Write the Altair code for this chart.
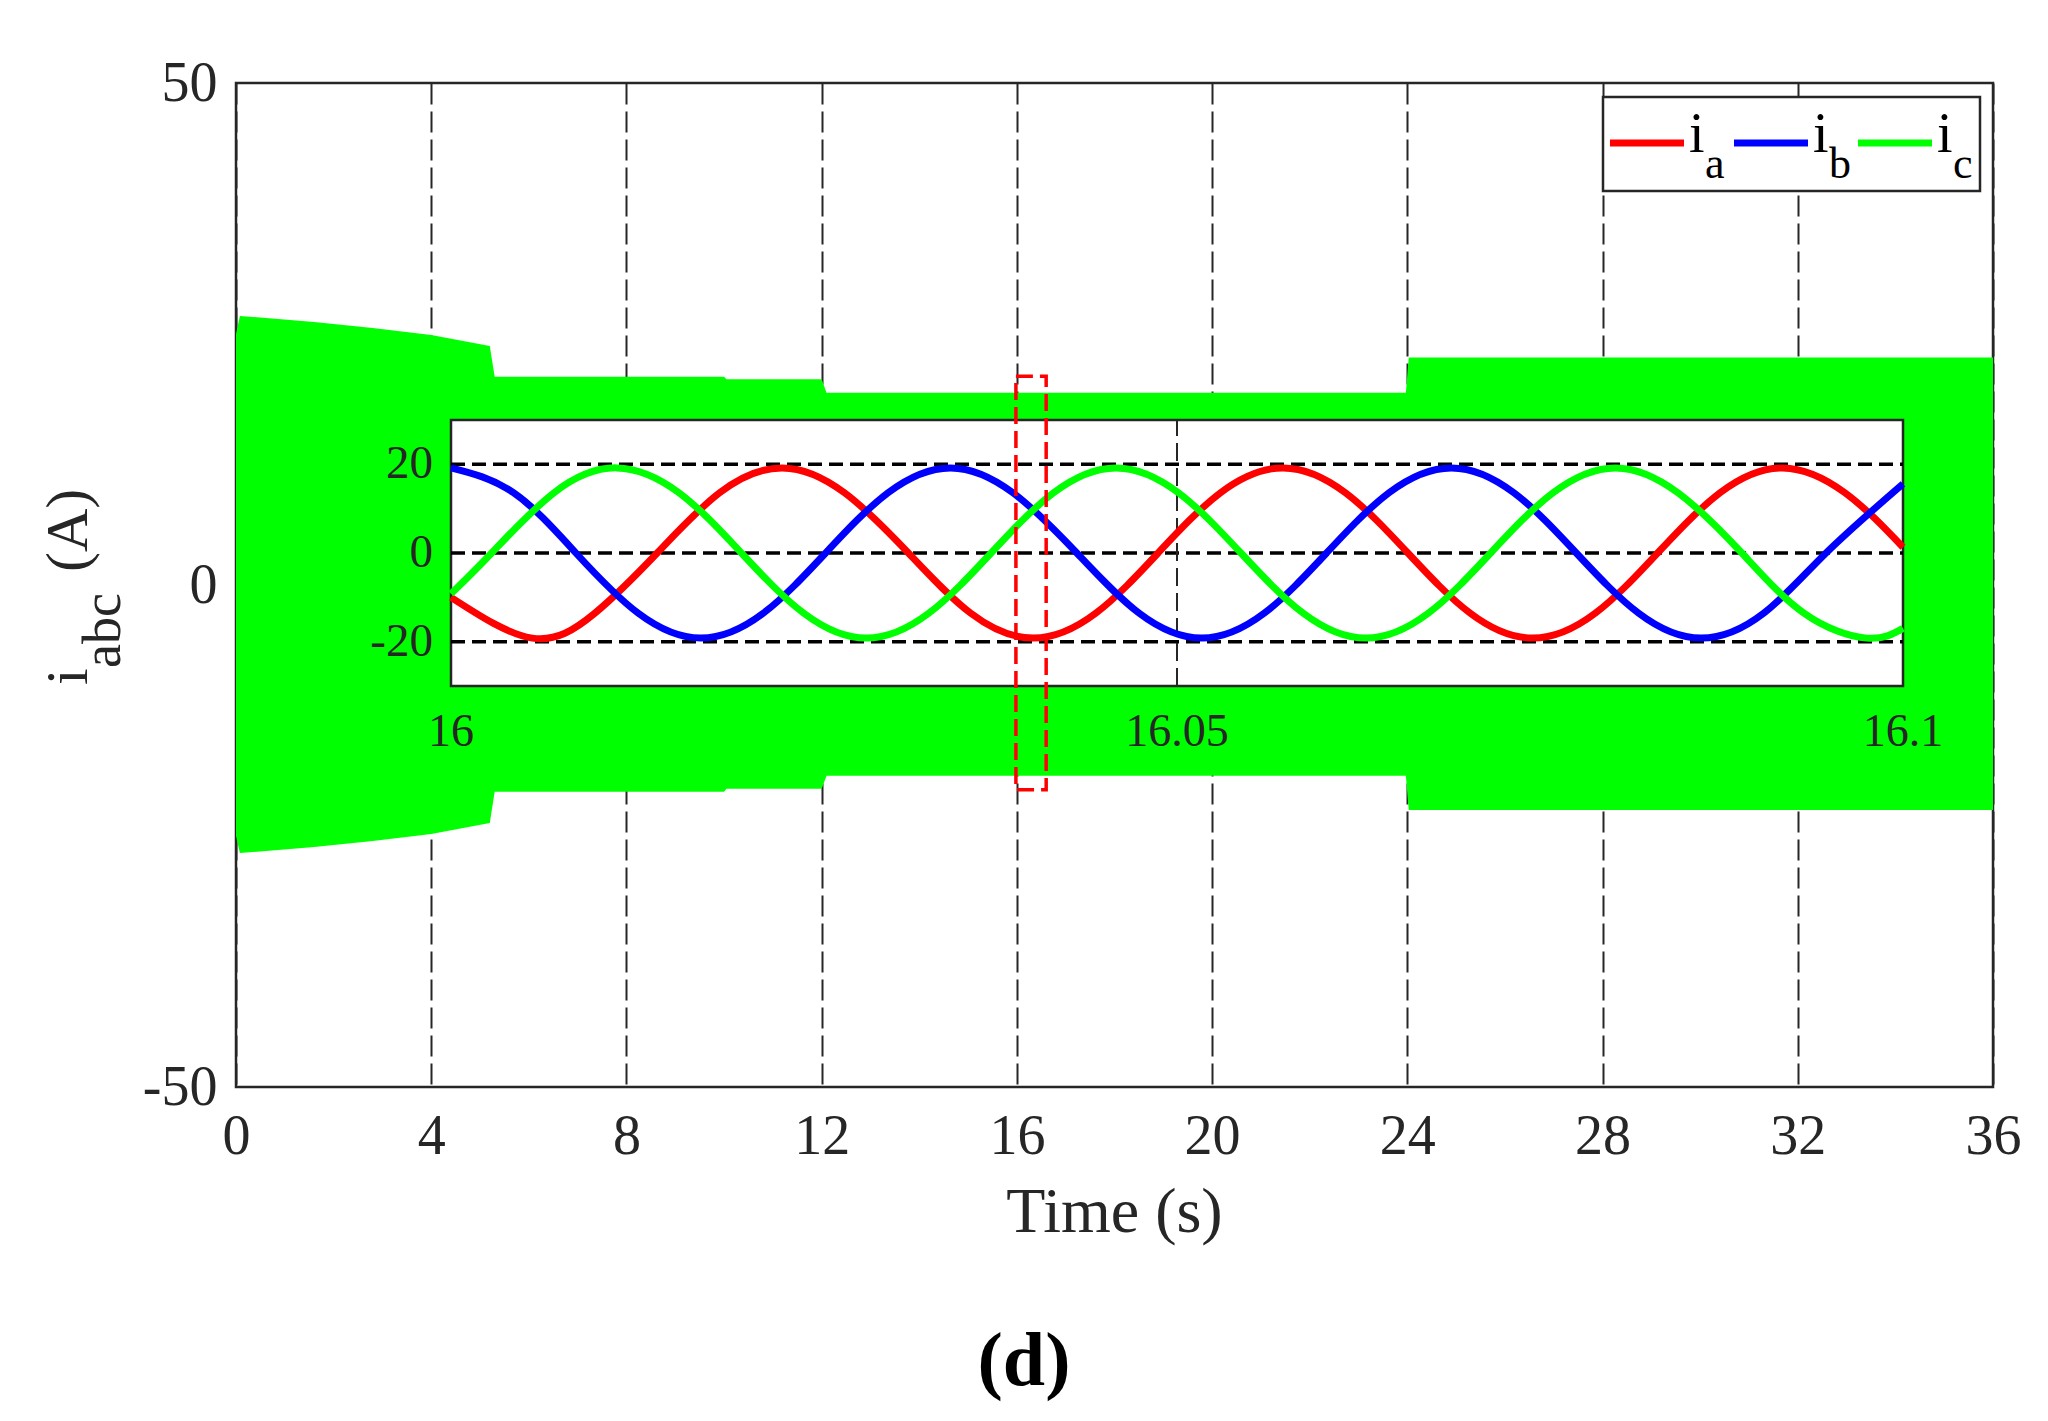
import altair as alt
import pandas as pd

FONT = "Liberation Serif"
INK = "#262626"
C_A, C_B, C_C = "#FF0000", "#0000FF", "#00FF00"

# ---------------- main plot: envelope of the three phase currents ----------------
env_t = [0.0, 0.08, 1.6, 2.8, 4.0, 5.2, 5.3, 10.0, 10.05, 12.0, 12.1, 23.97, 24.03, 36.0]
env_hi = [25.0, 26.8, 26.2, 25.6, 24.9, 23.8, 20.75, 20.75, 20.5, 20.5, 19.15, 19.15, 22.65, 22.65]
env_lo = [-25.0, -26.7, -26.1, -25.5, -24.8, -23.7, -20.6, -20.6, -20.3, -20.3, -19.0, -19.0, -22.4, -22.4]

x_ticks = [0, 4, 8, 12, 16, 20, 24, 28, 32, 36]
y_ticks = [-50, 0, 50]
x_dom = [0, 36]
y_dom = [-50, 50]

# zoom rectangle (red dashed) in main coordinates
zoom_box = {"t0": [15.98], "t1": [16.6], "v0": [-20.4], "v1": [20.8]}

# ---------------- inset: 16 s .. 16.1 s ----------------
ins_x_dom = [16.0, 16.1]
ins_y_dom = [-30, 30]
ins_x_ticks = [16.0, 16.05, 16.1]
ins_x_labels = ["16", "16.05", "16.1"]
ins_y_ticks = [20, 0, -20]
ins_y_labels = ["20", "0", "-20"]

red_t = [16.0, 16.0056, 16.0099, 16.0142, 16.0185, 16.0228, 16.0271, 16.0315, 16.0358,
         16.0401, 16.0444, 16.0487, 16.0530, 16.0573, 16.0616, 16.0659, 16.0702, 16.0745, 16.0788,
         16.0831, 16.0874, 16.0917, 16.0960, 16.1]
red_v = [-10.0, -19.2, -13.6, 0.0, 13.6, 19.2, 13.6, 0.0, -13.6,
         -19.2, -13.6, 0.0, 13.6, 19.2, 13.6, 0.0, -13.6, -19.2, -13.6,
         0.0, 13.6, 19.2, 13.6, 1.3]

blue_t = [16.0, 16.0043, 16.0086, 16.0129, 16.0172, 16.0215, 16.0258, 16.0301, 16.0344, 16.0387,
          16.0431, 16.0474, 16.0517, 16.0560, 16.0603, 16.0646, 16.0689, 16.0732, 16.0775, 16.0818,
          16.0861, 16.0904, 16.0947, 16.1]
blue_v = [19.2, 13.6, 0.0, -13.6, -19.2, -13.6, 0.0, 13.6, 19.2, 13.6,
          0.0, -13.6, -19.2, -13.6, 0.0, 13.6, 19.2, 13.6, 0.0, -13.6,
          -19.2, -13.6, 0.0, 15.6]

green_t = [16.0, 16.0028, 16.0071, 16.0114, 16.0157, 16.0200, 16.0243, 16.0286, 16.0329, 16.0372,
           16.0415, 16.0458, 16.0501, 16.0544, 16.0587, 16.0630, 16.0673, 16.0716, 16.0759, 16.0802,
           16.0845, 16.0889, 16.0932, 16.0975, 16.1]
green_v = [-9.2, 0.0, 13.6, 19.2, 13.6, 0.0, -13.6, -19.2, -13.6, 0.0,
           13.6, 19.2, 13.6, 0.0, -13.6, -19.2, -13.6, 0.0, 13.6, 19.2,
           13.6, 0.0, -13.6, -19.2, -17.0]

series = [("a", red_t, red_v, C_A), ("b", blue_t, blue_v, C_B), ("c", green_t, green_v, C_C)]

# ---------------- layout (pixels relative to plot area) ----------------
W, H = 1757, 1004
INS_X_RANGE = [215, 1667]
INS_Y_RANGE = [603, 337]

mx = alt.Scale(domain=x_dom, nice=False, zero=False)
my = alt.Scale(domain=y_dom, nice=False, zero=False)
ix = alt.Scale(domain=ins_x_dom, range=INS_X_RANGE, nice=False, zero=False)
iy = alt.Scale(domain=ins_y_dom, range=INS_Y_RANGE, nice=False, zero=False)

ax_x = alt.Axis(values=x_ticks, grid=True, gridDash=[21, 7], gridColor=INK, gridWidth=2,
                gridOpacity=1, ticks=False, tickSize=0, domain=False, labelFont=FONT,
                labelFontSize=56, labelPadding=22, labelColor=INK, labelFlush=False,
                labelOverlap=False, title=None, labelExpr="toString(datum.value)")
ax_y = alt.Axis(values=y_ticks, grid=False, ticks=False, tickSize=0, domain=False,
                labelFont=FONT, labelFontSize=56, labelPadding=19, labelColor=INK,
                labelOverlap=False, labelFlush=False, title=None,
                labelExpr="toString(datum.value)")

env_df = pd.DataFrame({"t": env_t, "hi": env_hi, "lo": env_lo})
envelope = alt.Chart(env_df).mark_area(color=C_C, opacity=1, interpolate="linear").encode(
    x=alt.X("t:Q", scale=mx, axis=ax_x),
    y=alt.Y("hi:Q", scale=my, axis=ax_y),
    y2="lo:Q",
)
main_group = alt.layer(envelope)

# ---------------- inset group ----------------
box_df = pd.DataFrame({"t0": [ins_x_dom[0]], "t1": [ins_x_dom[1]],
                       "v0": [ins_y_dom[0]], "v1": [ins_y_dom[1]]})
ins_bg = alt.Chart(box_df).mark_rect(fill="white", stroke=INK, strokeWidth=2.5).encode(
    x=alt.X("t0:Q", scale=ix, axis=None), x2="t1:Q",
    y=alt.Y("v0:Q", scale=iy, axis=None), y2="v1:Q",
)
hgrid_df = pd.DataFrame({"v": ins_y_ticks, "t0": [ins_x_dom[0]] * 3, "t1": [ins_x_dom[1]] * 3})
ins_hgrid = alt.Chart(hgrid_df).mark_rule(color="black", strokeWidth=3.5, strokeDash=[14, 7]).encode(
    x=alt.X("t0:Q", scale=ix, axis=None), x2="t1:Q",
    y=alt.Y("v:Q", scale=iy, axis=None),
)
vgrid_df = pd.DataFrame({"t": [ins_x_ticks[1]], "v0": [ins_y_dom[0]], "v1": [ins_y_dom[1]]})
ins_vgrid = alt.Chart(vgrid_df).mark_rule(color=INK, strokeWidth=2, strokeDash=[18, 7]).encode(
    x=alt.X("t:Q", scale=ix, axis=None),
    y=alt.Y("v0:Q", scale=iy, axis=None), y2="v1:Q",
)
ins_lines = []
for name, ts, vs, col in series:
    d = pd.DataFrame({"t": ts, "v": vs})
    ins_lines.append(
        alt.Chart(d).mark_line(color=col, strokeWidth=7, interpolate="natural").encode(
            x=alt.X("t:Q", scale=ix, axis=None),
            y=alt.Y("v:Q", scale=iy, axis=None),
        )
    )
ylab_df = pd.DataFrame({"v": ins_y_ticks, "lab": ins_y_labels})
ins_ylabels = alt.Chart(ylab_df).mark_text(font=FONT, fontSize=47, align="right", baseline="middle",
                                           color=INK).encode(
    x=alt.value(INS_X_RANGE[0] - 18),
    y=alt.Y("v:Q", scale=iy, axis=None),
    text="lab:N",
)
xlab_df = pd.DataFrame({"t": ins_x_ticks, "lab": ins_x_labels, "v": [ins_y_dom[0]] * 3})
ins_xlabels = alt.Chart(xlab_df).mark_text(font=FONT, fontSize=46, align="center",
                                           baseline="alphabetic", dy=60, color=INK).encode(
    x=alt.X("t:Q", scale=ix, axis=None),
    y=alt.Y("v:Q", scale=iy, axis=None),
    text="lab:N",
)
inset_group = alt.layer(ins_bg, ins_hgrid, ins_vgrid, *ins_lines, ins_ylabels, ins_xlabels)

# ---------------- overlay: zoom box, legend, titles ----------------
zb = alt.Chart(pd.DataFrame(zoom_box)).mark_rect(fillOpacity=0, stroke="red", strokeWidth=3.5,
                                                 strokeDash=[17, 7]).encode(
    x=alt.X("t0:Q", scale=mx, axis=None), x2="t1:Q",
    y=alt.Y("v0:Q", scale=my, axis=None), y2="v1:Q",
)

one = pd.DataFrame({"k": [0]})
overlay = [zb]
overlay.append(alt.Chart(one).mark_rect(fill="white", stroke=INK, strokeWidth=2.5).encode(
    x=alt.value(1367), x2=alt.value(1744), y=alt.value(14), y2=alt.value(108)))
for i, (name, ts, vs, col) in enumerate(series):
    x0 = 1374 + i * 124
    overlay.append(alt.Chart(one).mark_rule(color=col, strokeWidth=7).encode(
        x=alt.value(x0), x2=alt.value(x0 + 74), y=alt.value(60)))
    overlay.append(alt.Chart(one).mark_text(font=FONT, fontSize=56, align="left",
                                            baseline="alphabetic", color="black").encode(
        x=alt.value(x0 + 79), y=alt.value(69), text=alt.value("i")))
    overlay.append(alt.Chart(one).mark_text(font=FONT, fontSize=44, align="left",
                                            baseline="alphabetic", color="black").encode(
        x=alt.value(x0 + 95), y=alt.value(95), text=alt.value(name)))

# y-axis title  i_abc (A)  (rotated)
overlay.append(alt.Chart(one).mark_text(font=FONT, fontSize=60, align="left", baseline="alphabetic",
                                        angle=270, color=INK).encode(
    x=alt.value(-149), y=alt.value(602), text=alt.value("i")))
overlay.append(alt.Chart(one).mark_text(font=FONT, fontSize=54, align="left", baseline="alphabetic",
                                        angle=270, color=INK).encode(
    x=alt.value(-116), y=alt.value(585), text=alt.value("abc")))
overlay.append(alt.Chart(one).mark_text(font=FONT, fontSize=60, align="left", baseline="alphabetic",
                                        angle=270, color=INK).encode(
    x=alt.value(-149), y=alt.value(489), text=alt.value("(A)")))
# x-axis title
overlay.append(alt.Chart(one).mark_text(font=FONT, fontSize=64, align="center", baseline="alphabetic",
                                        color=INK).encode(
    x=alt.value(W / 2), y=alt.value(1149), text=alt.value("Time (s)")))
# panel label
overlay.append(alt.Chart(one).mark_text(font=FONT, fontSize=76, fontWeight="bold", align="center",
                                        baseline="alphabetic", color="black").encode(
    x=alt.value(788), y=alt.value(1302), text=alt.value("(d)")))

overlay_group = alt.layer(*overlay)

chart = alt.layer(main_group, inset_group, overlay_group).resolve_scale(
    x="independent", y="independent"
).properties(
    width=W, height=H,
    autosize=alt.AutoSizeParams(type="none"),
    padding={"left": 228, "top": 75, "right": 40, "bottom": 330},
    background="white",
).configure_view(stroke=INK, strokeWidth=2.5)

chart.save("out.html", embed_options={"renderer": "svg", "actions": False})
